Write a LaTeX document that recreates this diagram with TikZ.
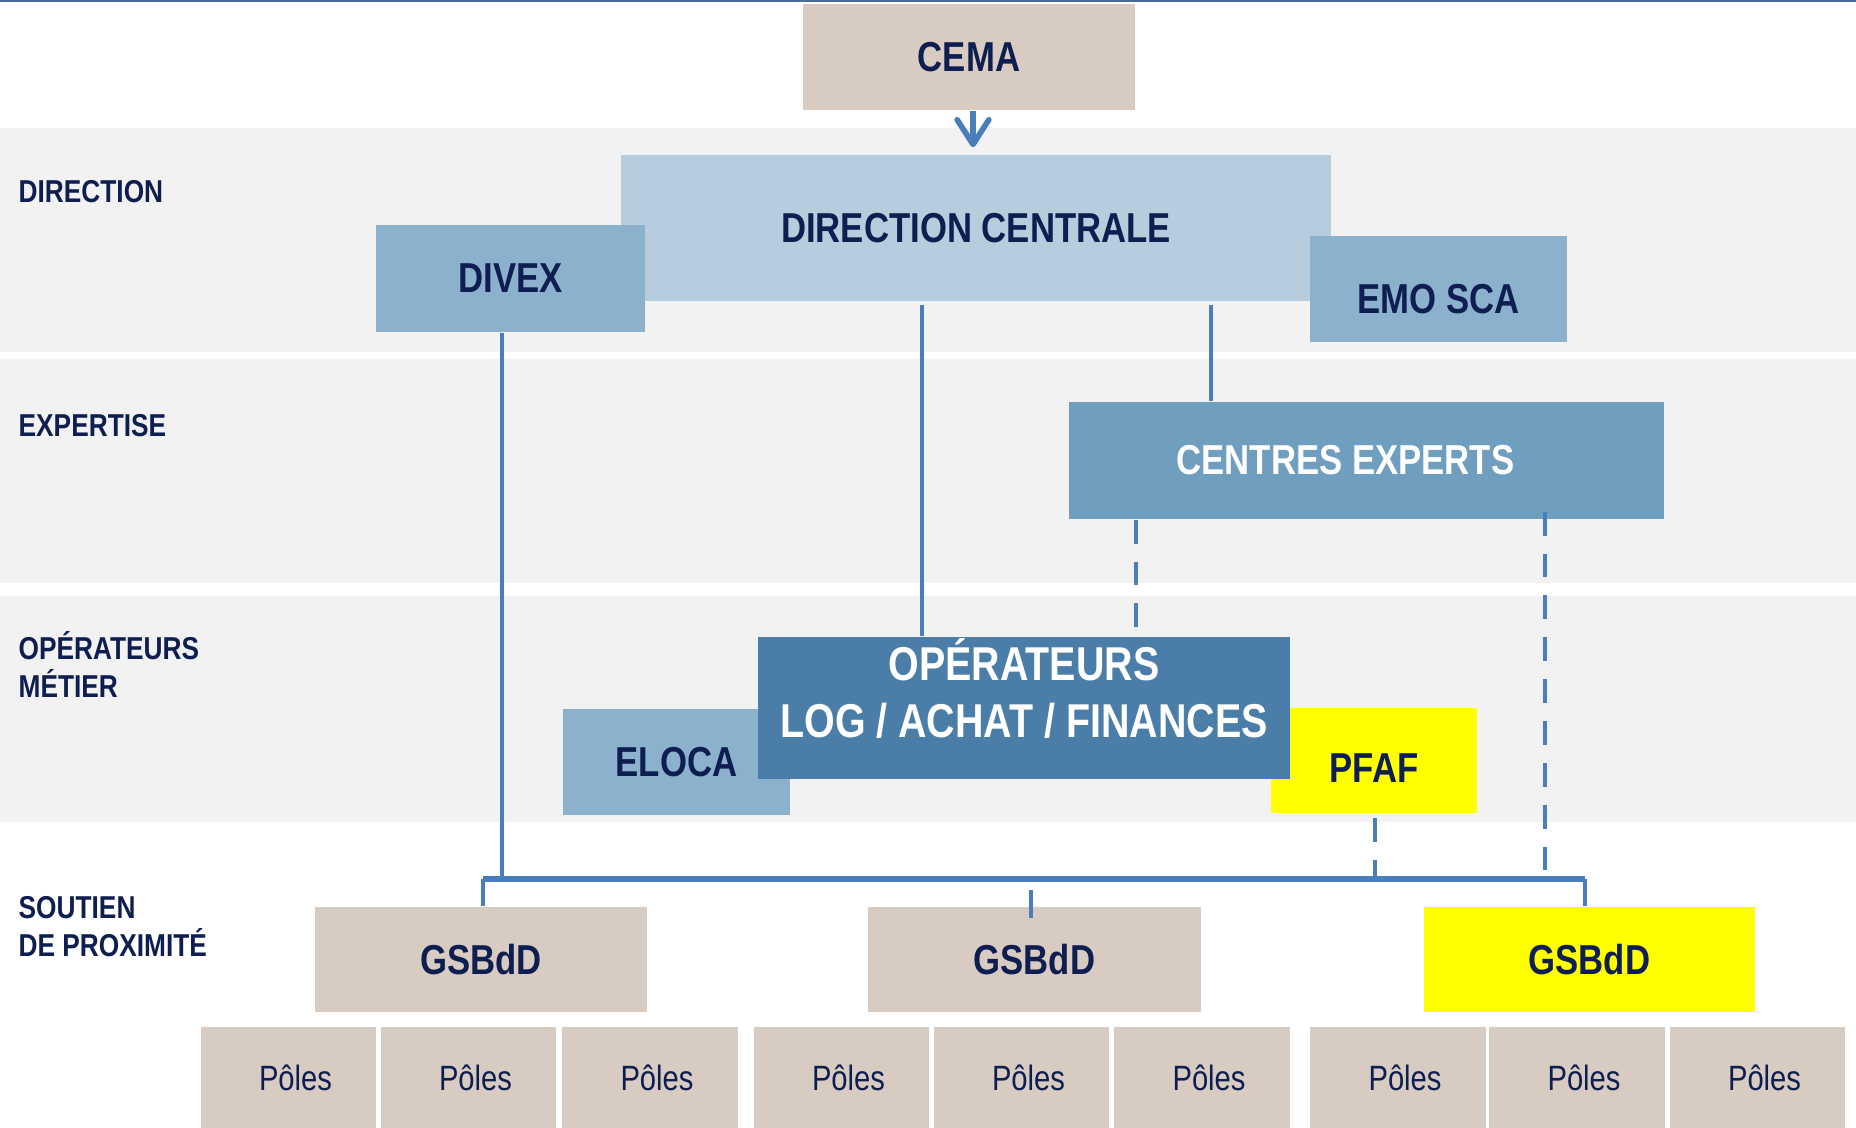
\documentclass[tikz,border=0pt]{standalone}
\usepackage{fontspec}
\setmainfont{Liberation Sans}[FakeStretch=0.83]
\usepackage{tikz}
\usetikzlibrary{arrows.meta}
\definecolor{bandgray}{HTML}{F2F2F2}
\definecolor{boxtan}{HTML}{D8CCC2}
\definecolor{dcblue}{HTML}{B7CDDE}
\definecolor{midblue}{HTML}{8BB1CD}
\definecolor{ceblue}{HTML}{6F9EBE}
\definecolor{opblue}{HTML}{4A7EA8}
\definecolor{linkblue}{HTML}{4A7EBB}
\definecolor{navy}{HTML}{0F1E50}
\definecolor{topgray}{HTML}{4A6A9A}
\definecolor{pfyellow}{HTML}{FFFF00}

\tikzset{
	box/.style={rectangle, inner sep=0pt, text=navy, font=\bfseries\fontsize{11.9}{14}\selectfont},
	link/.style={draw=linkblue, line width=1.4pt},
	dlink/.style={link, dash pattern=on 6.8pt off 5.1pt},
	bus/.style={draw=linkblue, line width=1.7pt},
	lvl/.style={anchor=west, inner sep=0pt, align=left, text=navy, font=\bfseries\fontsize{9}{10.8}\selectfont},
	pole/.style={box, fill=boxtan, minimum width=1.75cm, minimum height=1.01cm, font=\fontsize{10}{12}\selectfont},
}

\begin{document}
\begin{tikzpicture}[x=0.01cm, y=-0.01cm]

		\useasboundingbox (0,0) rectangle (1856,1128);

		% Bands
		\fill[bandgray] (0,128) rectangle (1856,352);
		\fill[bandgray] (0,359) rectangle (1856,583);
		\fill[bandgray] (0,596) rectangle (1856,822);
		\draw[topgray, line width=0.6pt] (0,1) -- (1856,1);

		% Level labels
		\node[lvl] (ldir) at (18,192) {DIRECTION};
		\node[lvl] (lexp) at (18,426) {EXPERTISE};
		\node[lvl] (lop) at (18,664) {OPÉRATEURS\\MÉTIER};
		\node[lvl] (lsou) at (18,927) {SOUTIEN\\DE PROXIMITÉ};

		% Direction
		\node[box, fill=boxtan, minimum width=3.32cm, minimum height=1.06cm] (cema) at (969,57) {CEMA};
		\node[box, fill=dcblue, minimum width=7.10cm, minimum height=1.46cm] (dc) at (976,228) {DIRECTION CENTRALE};
		\node[box, fill=midblue, minimum width=2.69cm, minimum height=1.07cm] (divex) at (510.5,278.5) {DIVEX};
		\node[box, fill=midblue, minimum width=2.57cm, minimum height=1.06cm, text height=13.7pt, text depth=0pt] (emo) at (1438.5,289) {EMO SCA};

		% Expertise
		\node[box, fill=ceblue, text=white, minimum width=5.95cm, minimum height=1.17cm] (ce) at (1366.5,460.5) {CENTRES EXPERTS\hspace*{12pt}};

		% Operateurs
		\node[box, fill=midblue, minimum width=2.27cm, minimum height=1.06cm] (eloca) at (676.5,762) {ELOCA};
		\node[box, fill=pfyellow, minimum width=2.06cm, minimum height=1.05cm, text height=12.8pt, text depth=0pt] (pfaf) at (1374,760.5) {PFAF};
		\node[box, fill=opblue, text=white, align=center, minimum width=5.32cm, minimum height=1.42cm,
			text height=16.5pt, text depth=0pt, font=\bfseries\fontsize{13.5}{16.2}\selectfont] (op) at (1024,708) {OPÉRATEURS\\LOG / ACHAT / FINANCES};

		% Soutien
		\node[box, fill=boxtan, minimum width=3.32cm, minimum height=1.05cm] (g1) at (481,959.5) {GSBdD};
		\node[box, fill=boxtan, minimum width=3.33cm, minimum height=1.05cm] (g2) at (1034.5,959.5) {GSBdD};
		\node[box, fill=pfyellow, minimum width=3.31cm, minimum height=1.05cm] (g3) at (1589.5,959.5) {GSBdD};
		\foreach \x [count=\i] in {288.5,468.5,650,841.5,1021.5,1202,1398,1577,1757.5}
			\node[pole] (p\i) at (\x,1077.5) {\hspace*{4pt}Pôles};

		% Links
		\draw[link, line width=1.6pt, shorten >=2pt, -{Straight Barb[length=7pt, width=9pt, round]}] (cema.south -| 973,0) -- (dc.north -| 973,0);
		\draw[link] (dc.south -| 922,0) ++(0,3) -- (op.north -| 922,0);
		\draw[link] (dc.south -| 1211,0) ++(0,3) -- (ce.north -| 1211,0);
		\draw[dlink] (ce.south -| 1136,0) -- (op.north -| 1136,0);

		% Bus
		\coordinate (busl) at (483,879);
		\coordinate (busr) at (1585,879);
		\draw[link] (divex.south -| 502,0) -- (busl -| 502,0);
		\draw[dlink] (ce.south -| 1545,0) ++(0,-8) -- (busr -| 1545,0);
		\draw[dlink] (pfaf.south -| 1375,0) ++(0,4) -- (busl -| 1375,0);
		\draw[bus] (busl) -- (busr);
		\draw[link] (busl) -- (busl |- g1.north);
		\draw[link] (busr) -- (busr |- g3.north);
		\draw[link] (g2.north -| 1031,0) ++(0,-16) -- ++(0,28);

	\end{tikzpicture}
\end{document}
